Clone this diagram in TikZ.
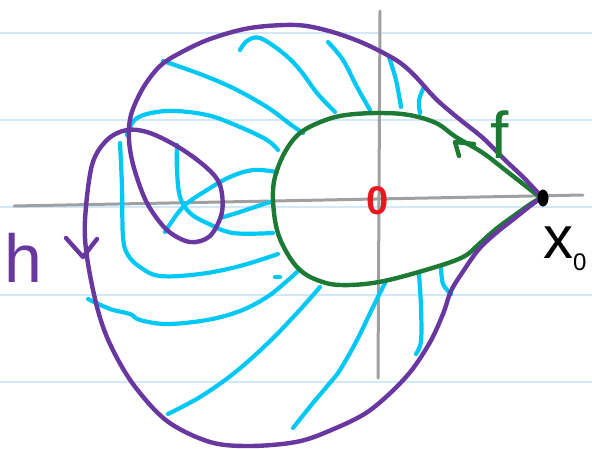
\documentclass[tikz,border=0pt]{standalone}
\usepackage{fontspec}
\setmainfont{Liberation Sans}
\definecolor{rulecol}{RGB}{208,232,250}
\definecolor{axcol}{RGB}{160,160,160}
\definecolor{hcol}{RGB}{104,56,160}
\definecolor{fcol}{RGB}{28,122,52}
\definecolor{ccol}{RGB}{0,200,245}
\definecolor{zcol}{RGB}{236,22,32}
\begin{document}
\begin{tikzpicture}[x=1pt,y=-1pt,line cap=round,line join=round,
  rule/.style={draw=rulecol,line width=1.8pt},
  axisline/.style={draw=axcol,line width=3pt},
  hline/.style={draw=hcol,line width=4.4pt},
  fline/.style={draw=fcol,line width=4.4pt},
  cline/.style={draw=ccol,line width=4.2pt},
  lbl/.style={inner sep=0pt,outer sep=0pt}]
\useasboundingbox (0,0) rectangle (592,448);
\fill[white] (0,0) rectangle (592,448);
% ruled paper
\foreach \yy in {33,120,207,295,382} \draw[rule] (0,\yy) -- (592,\yy);
% axes
\draw[axisline] (14,206) -- (583,195);
\draw[axisline] (380,11) -- (378,378);
% cyan lines
\begin{scope}[cline]
\draw plot[smooth,tension=0.6] coordinates {(163,61) (200,74) (233,88) (267,107) (290,124) (303,133)};
\draw plot[smooth,tension=0.6] coordinates {(127,135) (137,118) (167,111) (207,115) (240,127) (267,140) (278,150)};
\draw plot[smooth,tension=0.6] coordinates {(240,50) (247,41) (260,38) (283,53) (300,70) (317,93) (335,112)};
\draw plot[smooth,tension=0.6] coordinates {(328,42) (343,60) (357,87) (370,110)};
\draw plot[smooth,tension=0.6] coordinates {(389,57) (396,80) (401,107)};
\draw plot[smooth,tension=0.6] coordinates {(424,87) (419,100) (420,113)};
\draw plot[smooth,tension=0.6] coordinates {(120,143) (122,187) (123,237) (128,255) (140,267) (160,276) (200,274) (240,266) (278,254)};
\draw plot[smooth,tension=0.6] coordinates {(177,145) (177,170) (180,197) (190,213) (207,223) (233,233) (273,233)};
\draw plot[smooth,tension=0.6] coordinates {(165,232) (183,207) (207,190) (230,177) (253,170) (277,172)};
\draw plot[smooth,tension=0.6] coordinates {(220,218) (240,212) (267,203) (273,202)};
\draw plot[smooth,tension=0.6] coordinates {(88,299) (110,309) (130,314) (140,320) (167,324) (207,320) (240,311) (267,297) (287,281) (298,271)};
\draw (275,277) -- (280,277);
\draw plot[smooth,tension=0.6] coordinates {(168,414) (200,397) (233,374) (267,344) (297,313) (320,287)};
\draw plot[smooth,tension=0.6] coordinates {(293,428) (313,403) (329,384) (340,370) (357,340) (373,307) (386,281)};
\draw plot[smooth,tension=0.6] coordinates {(419,274) (421,307) (421,341) (416,354)};
\draw plot[smooth,tension=0.6] coordinates {(441,267) (443,284) (451,294)};
\end{scope}
% green curve f
\draw[fline] plot[smooth,tension=0.6] coordinates {(541,197) (536,194) (509,173) (483,153) (456,137) (436,123) (409,115) (379,113) (346,115) (323,121) (300,133) (285,152) (275,177) (273,200) (277,230) (287,253) (300,270) (317,280) (340,285) (379,282) (429,269) (463,257) (479,244) (496,229) (515,215) (532,203) (541,198)};
\draw[fline] (474,144) -- (455,142) -- (459,156);
% purple curve h
\draw[hline] plot[smooth,tension=0.55] coordinates {(541,196) (523,177) (505,160) (483,138) (458,118) (436,99) (414,75) (396,60) (363,43) (329,31) (296,25) (250,28) (210,39) (180,53) (160,66) (143,88) (131,115) (129,140) (134,168) (147,203) (167,230) (190,242) (210,236) (222,212) (220,185) (207,168) (180,148) (150,133) (127,130) (107,140) (92,165) (85,220) (87,257) (97,307) (110,344) (133,384) (167,421) (210,442) (250,446) (296,442) (329,431) (369,411) (406,377) (429,344) (443,314) (451,291) (464,270) (479,249) (496,233) (515,218) (530,206) (541,198)};
\draw[hline] (66,238) -- (83,257) -- (97,239);
% x0 blob
\fill[black] (543,198) ellipse [x radius=5.5pt,y radius=8.5pt];
% labels
\node[lbl,text=zcol,font=\fontsize{40}{40}\selectfont\bfseries] (zero) at (378,201) {0};
\node[lbl,text=fcol,font=\fontsize{66}{66}\selectfont] (flabel) at (500,135) {f};
\node[lbl,text=hcol,font=\fontsize{68}{68}\selectfont] (hlabel) at (23,258) {h};
\node[lbl,anchor=base west,font=\fontsize{60}{60}\selectfont] (xlabel) at (543,258) {x\raisebox{-12pt}{\fontsize{24}{24}\selectfont 0}};
\end{tikzpicture}
\end{document}
